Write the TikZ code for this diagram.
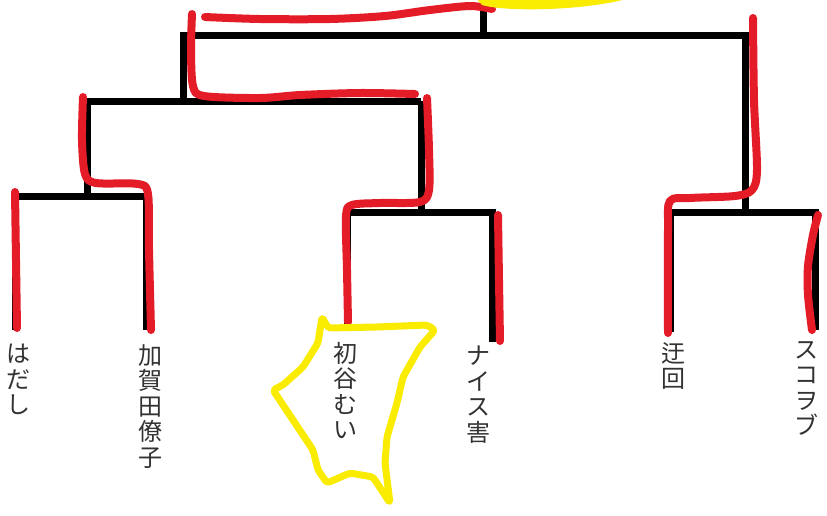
\documentclass[tikz,border=0pt]{standalone}
\usepackage{fontspec}
\newfontfamily\jpfont{Noto Sans CJK JP}
\definecolor{mkred}{RGB}{228,28,40}
\definecolor{mkyellow}{RGB}{250,236,0}
\definecolor{txtgray}{RGB}{50,50,50}
\begin{document}
\begin{tikzpicture}[x=1pt,y=-1pt,
  bracket/.style={line width=7pt, black, line join=miter},
  marker/.style={line width=8pt, mkred, line cap=round, line join=round},
  hilite/.style={line width=7pt, mkyellow, line cap=round, line join=round},
  entrant/.style={font=\jpfont\fontsize{24}{25.5}\selectfont, text=txtgray, align=center, inner sep=0pt, anchor=north}]
\useasboundingbox (0,0) rectangle (827,515);
\fill[white] (0,0) rectangle (827,515);
% bracket junctions
\coordinate (top) at (483,11);
\coordinate (f) at (483,35);
\coordinate (fl) at (183,35);
\coordinate (fr) at (745,35);
\coordinate (sl) at (183,101);
\coordinate (sll) at (87,101);
\coordinate (slr) at (421,101);
\coordinate (q1) at (87,196);
\coordinate (q1l) at (15,196);
\coordinate (q1r) at (146,196);
\coordinate (q2) at (421,212);
\coordinate (q2l) at (347,212);
\coordinate (q2r) at (492,212);
\coordinate (q3) at (745,212);
\coordinate (q3l) at (670,212);
\coordinate (q3r) at (815,212);
\coordinate (e1) at (15,330);
\coordinate (e2) at (146,330);
\coordinate (e3) at (347,324);
\coordinate (e4) at (492,342);
\coordinate (e5) at (670,332);
\coordinate (e6) at (815,330);
% entrants
\node[entrant] (n1) at (18,344) {は\\だ\\し};
\node[entrant] (n2) at (150,344) {加\\賀\\田\\僚\\子};
\node[entrant] (n3) at (345,342) {初\\谷\\む\\い};
\node[entrant] (n4) at (478,346) {ナ\\イ\\ス\\害};
\node[entrant] (n5) at (673,342) {迂\\回};
\node[entrant] (n6) at (806,341) {ス\\コ\\ヲ\\ブ};
% black bracket
\draw[bracket] (top) -- (f);
\draw[bracket] (sl) -- (fl) -- (fr) -- (q3);
\draw[bracket] (sll) -- (slr);
\draw[bracket] (sll) -- (q1);
\draw[bracket] (slr) -- (q2);
\draw[bracket] (e1) -- (q1l) -- (q1r) -- (e2);
\draw[bracket] (e3) -- (q2l) -- (q2r) -- (e4);
\draw[bracket] (e5) -- (q3l) -- (q3r) -- (e6);
% red marker strokes
\draw[marker] plot[smooth] coordinates {(205,17) (260,19) (330,19) (385,16) (430,10) (470,6) (492,9)};
\draw[marker] plot[smooth] coordinates {(192,14) (191,50) (193,86) (204,96) (260,98) (300,95) (360,93) (415,94)};
\draw[marker] plot[smooth] coordinates {(427,98) (429,150) (429,190) (420,202) (380,203) (352,205) (346,216) (347,270) (348,322)};
\draw[marker] plot[smooth] coordinates {(83,97) (82,140) (85,174) (96,183) (138,184) (148,194) (149,250) (151,330)};
\draw[marker] plot[smooth] coordinates {(15,192) (16,260) (17,328)};
\draw[marker] plot[smooth] coordinates {(498,215) (499,280) (500,341)};
\draw[marker] plot[smooth] coordinates {(753,18) (754,100) (757,170) (752,190) (735,196) (690,198) (670,201) (668,230) (668,333)};
\draw[marker] plot[smooth] coordinates {(818,215) (813,235) (808,266) (808,295) (812,330)};
% yellow highlights
\fill[mkyellow] (476,-2) -- (482,5) .. controls (505,12) and (585,11) .. (630,-2) -- cycle;
\draw[hilite, rounded corners=3pt] (322,317) -- (328,328) -- (377,327) -- (427,325) -- (435,330)
  -- (420,347) -- (403,377) -- (397,403) -- (387,437) -- (385,463) -- (390,503)
  -- (373,477) -- (350,473) -- (327,483) -- (318,470) -- (313,450)
  -- (293,420) -- (273,390) -- (283,385) -- (303,367) -- (318,343) -- cycle;
\end{tikzpicture}
\end{document}
